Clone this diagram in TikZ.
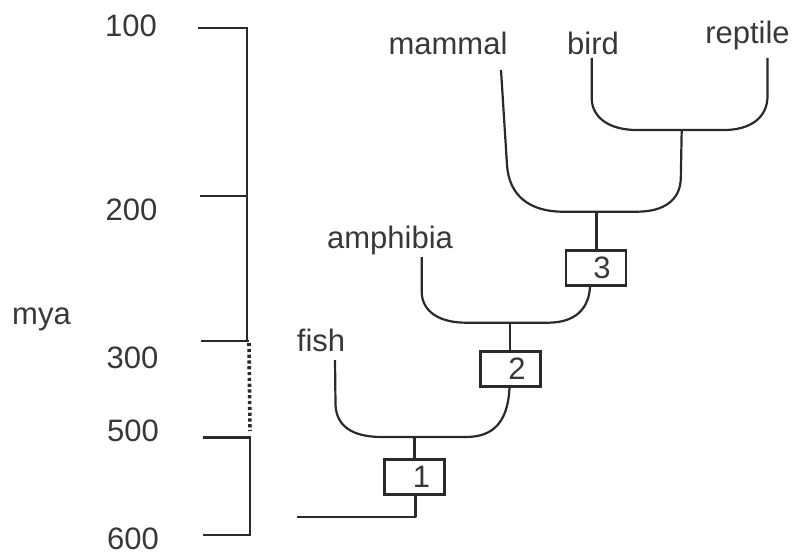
\documentclass[tikz,border=0pt]{standalone}
\usepackage{fontspec}
\setmainfont{Liberation Sans}
\begin{document}
\definecolor{ink}{HTML}{2A2A2A}
\definecolor{txt}{HTML}{383838}
\begin{tikzpicture}[x=1pt,y=-1pt,
  every node/.style={text=txt,font=\fontsize{31}{37}\selectfont,inner sep=0pt},
  lbl/.style={anchor=base},
  numbox/.style={draw=ink,line width=2.2pt,minimum width=60pt,minimum height=35pt,anchor=center},
  branch/.style={draw=ink,line width=2.2pt,line join=round},
  scale line/.style={draw=ink,line width=2.2pt}]
\useasboundingbox (0,0) rectangle (794,556);
% time scale
\node[lbl] (l100) at (131,37) {100};
\node[lbl] (l200) at (131.5,220) {200};
\node[lbl] (lmya) at (41.5,324) {mya};
\node[lbl] (l300) at (132.5,368) {300};
\node[lbl] (l500) at (133,441.5) {500};
\node[lbl] (l600) at (133,549) {600};
\draw[scale line] (198,28) -- (247,28) -- (247,341);
\draw[scale line] (200,196) -- (247,196);
\draw[scale line] (201,341) -- (249,341);
\draw[draw=ink,line width=3.6pt,dash pattern=on 3.2pt off 2.6pt] (249,343) -- (250,431);
\draw[scale line] (203,437.5) -- (250,437.5) -- (250,535) -- (203,535);
% taxa
\node[lbl] (fish) at (321,351.5) {fish};
\node[lbl] (amph) at (390,248) {amphibia};
\node[lbl] (mammal) at (448,55) {mammal};
\node[lbl] (bird) at (593,55) {bird};
\node[lbl] (reptile) at (747.5,43.5) {reptile};
\coordinate (fishtop) at (335,360);
\coordinate (amphtop) at (421.7,257);
\coordinate (mammaltop) at (501,70);
\coordinate (birdtop) at (591.7,58);
\coordinate (reptiletop) at (767.5,58);
% junctions
\coordinate (j4) at (681.7,130);
\coordinate (j3) at (596.5,211.7);
\coordinate (j2) at (510,322.7);
\coordinate (j1) at (414.5,437);
\coordinate (root) at (297,517);
% boxes
\node[numbox] (b3) at (596,268) {\hspace*{12pt}3};
\node[numbox] (b2) at (510.5,369) {\hspace*{13pt}2};
\node[numbox] (b1) at (414.5,477) {\hspace*{14pt}1};
% tree
\draw[branch] (birdtop) -- (591.7,98) .. controls (591.7,118) and (610,130) .. (636.7,130) -- (j4)
  -- (724,130) .. controls (750,130) and (767.5,118) .. (767.5,96) -- (reptiletop);
\draw[branch] (mammaltop) -- (507,165) .. controls (509,196) and (530,211.7) .. (563,211.7) -- (j3)
  -- (637,211.7) .. controls (664,211.7) and (680.5,200) .. (680.8,178) -- (j4);
\draw[branch] (j3) -- (j3 |- b3.north);
\draw[branch] (amphtop) -- (421.7,292) .. controls (422,312) and (440,322.7) .. (466,322.7) -- (j2)
  -- (548,322.7) .. controls (576,322.7) and (589,308) .. ([xshift=-6pt]b3.south);
\draw[branch] (j2) -- (j2 |- b2.north);
\draw[branch] (fishtop) -- (335.5,405) .. controls (336.5,426) and (352,437) .. (382,437) -- (j1)
  -- (466,437) .. controls (495,437) and (508,420) .. ([xshift=-1pt]b2.south);
\draw[branch] (j1) -- (j1 |- b1.north);
\draw[branch] ([xshift=1pt]b1.south) |- (root);
\end{tikzpicture}
\end{document}
